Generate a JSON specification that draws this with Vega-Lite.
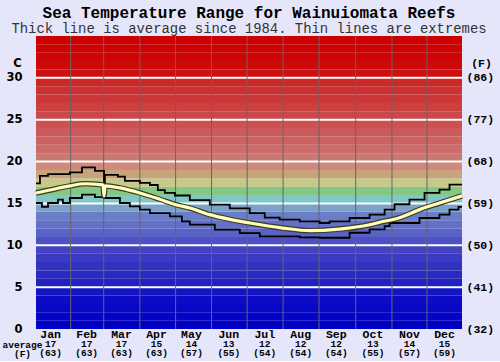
{
  "$schema": "https://vega.github.io/schema/vega-lite/v6.json",
  "background": "#e6e6fa",
  "padding": {"left": 2, "top": 4, "right": 6, "bottom": 3},
  "bounds": "flush",
  "spacing": 1,
  "title": {
    "text": "Sea Temperature Range for Wainuiomata Reefs",
    "subtitle": "Thick line is average since 1984. Thin lines are extremes",
    "font": "Liberation Mono", "fontSize": 16, "fontWeight": "bold", "color": "#000",
    "subtitleFont": "Liberation Mono", "subtitleFontSize": 13.9, "subtitleFontWeight": "normal", "subtitleColor": "#333",
    "anchor": "middle", "frame": "group", "offset": 0, "subtitlePadding": 1
  },
  "config": {"view": {"stroke": null}},
  "datasets": {
    "bands": [
      {"lo": 0, "hi": 1}, {"lo": 1, "hi": 2}, {"lo": 2, "hi": 3}, {"lo": 3, "hi": 4}, {"lo": 4, "hi": 5},
      {"lo": 5, "hi": 6}, {"lo": 6, "hi": 7}, {"lo": 7, "hi": 8}, {"lo": 8, "hi": 9}, {"lo": 9, "hi": 10},
      {"lo": 10, "hi": 11}, {"lo": 11, "hi": 12}, {"lo": 12, "hi": 13}, {"lo": 13, "hi": 14}, {"lo": 14, "hi": 15},
      {"lo": 15, "hi": 16}, {"lo": 16, "hi": 17}, {"lo": 17, "hi": 18}, {"lo": 18, "hi": 19}, {"lo": 19, "hi": 20},
      {"lo": 20, "hi": 21}, {"lo": 21, "hi": 22}, {"lo": 22, "hi": 23}, {"lo": 23, "hi": 24}, {"lo": 24, "hi": 25},
      {"lo": 25, "hi": 26}, {"lo": 26, "hi": 27}, {"lo": 27, "hi": 28}, {"lo": 28, "hi": 29}, {"lo": 29, "hi": 30},
      {"lo": 30, "hi": 31}, {"lo": 31, "hi": 32}, {"lo": 32, "hi": 33}, {"lo": 33, "hi": 34}, {"lo": 34, "hi": 35}
    ],
    "grid": [{"c": 5}, {"c": 10}, {"c": 15}, {"c": 20}, {"c": 25}, {"c": 30}],
    "bounds": [{"d": 29.7}, {"d": 58}, {"d": 89}, {"d": 119.6}, {"d": 150.4}, {"d": 180.9}, {"d": 211.7}, {"d": 242.5}, {"d": 273.9}, {"d": 305}, {"d": 335}],
    "maxT": [
      {"d": 0, "t": 17.4}, {"d": 3.4, "t": 18.3}, {"d": 10.3, "t": 18.5}, {"d": 29, "t": 18.7}, {"d": 39.4, "t": 19.3},
      {"d": 50.5, "t": 18.9}, {"d": 58.3, "t": 16.4}, {"d": 59, "t": 18.4}, {"d": 70.2, "t": 18.2}, {"d": 76.2, "t": 17.7},
      {"d": 89, "t": 17.45}, {"d": 97.6, "t": 17.2}, {"d": 104.4, "t": 16.6}, {"d": 110.4, "t": 16.25}, {"d": 119, "t": 15.95},
      {"d": 131.8, "t": 15.4}, {"d": 148.9, "t": 14.85}, {"d": 166, "t": 14.4}, {"d": 183.1, "t": 13.85}, {"d": 196, "t": 13.3},
      {"d": 208.8, "t": 13.06}, {"d": 226, "t": 12.86}, {"d": 243, "t": 12.66}, {"d": 251.6, "t": 12.86}, {"d": 268.7, "t": 13.26},
      {"d": 285.8, "t": 13.66}, {"d": 298.7, "t": 14.26}, {"d": 307.2, "t": 14.9}, {"d": 320, "t": 15.45}, {"d": 332.9, "t": 16.25},
      {"d": 345.7, "t": 16.65}, {"d": 354.3, "t": 17.25}, {"d": 365, "t": 17.25}
    ],
    "minT": [
      {"d": 0, "t": 15.05}, {"d": 5.1, "t": 14.6}, {"d": 10.3, "t": 15.05}, {"d": 18.8, "t": 15.45}, {"d": 23.1, "t": 15.05},
      {"d": 29, "t": 15.65}, {"d": 39.4, "t": 16.05}, {"d": 50.5, "t": 15.75}, {"d": 58.3, "t": 15.65}, {"d": 71.9, "t": 15.05},
      {"d": 80.4, "t": 14.65}, {"d": 89, "t": 14.26}, {"d": 97.6, "t": 13.85}, {"d": 114.7, "t": 13.46}, {"d": 125, "t": 12.86},
      {"d": 131.8, "t": 12.46}, {"d": 153.2, "t": 11.87}, {"d": 174.6, "t": 11.46}, {"d": 191.7, "t": 11.06}, {"d": 226, "t": 10.95},
      {"d": 243, "t": 10.9}, {"d": 268.7, "t": 11.5}, {"d": 285.8, "t": 11.9}, {"d": 298.7, "t": 12.3}, {"d": 303, "t": 12.66},
      {"d": 328.6, "t": 13.26}, {"d": 345.7, "t": 13.66}, {"d": 354.3, "t": 14.26}, {"d": 362, "t": 14.6}, {"d": 365, "t": 14.6}
    ],
    "avgT": [
      {"d": 0, "t": 16.25}, {"d": 12, "t": 16.6}, {"d": 29, "t": 17.1}, {"d": 42, "t": 17.35}, {"d": 54.8, "t": 17.25},
      {"d": 57.5, "t": 17.2}, {"d": 58.3, "t": 15.9}, {"d": 59.2, "t": 17.1}, {"d": 71.9, "t": 16.85}, {"d": 89, "t": 16.25},
      {"d": 106, "t": 15.5}, {"d": 119.8, "t": 14.85}, {"d": 131.8, "t": 14.45}, {"d": 148.9, "t": 13.66}, {"d": 166, "t": 13.1},
      {"d": 183.1, "t": 12.66}, {"d": 211.4, "t": 12.06}, {"d": 234.5, "t": 11.75}, {"d": 260, "t": 11.94}, {"d": 285.8, "t": 12.46},
      {"d": 294.4, "t": 12.75}, {"d": 311.5, "t": 13.3}, {"d": 328.6, "t": 14.26}, {"d": 345.7, "t": 15.05}, {"d": 365, "t": 15.9}
    ],
    "months": [
      {"m": "Jan", "mid": 12.5, "c": 17, "f": 63}, {"m": "Feb", "mid": 43.4, "c": 17, "f": 63},
      {"m": "Mar", "mid": 73.3, "c": 17, "f": 63}, {"m": "Apr", "mid": 103.3, "c": 15, "f": 63},
      {"m": "May", "mid": 133.2, "c": 14, "f": 57}, {"m": "Jun", "mid": 165.2, "c": 13, "f": 55},
      {"m": "Jul", "mid": 196, "c": 12, "f": 54}, {"m": "Aug", "mid": 226.8, "c": 12, "f": 54},
      {"m": "Sep", "mid": 257.3, "c": 12, "f": 54}, {"m": "Oct", "mid": 288.7, "c": 13, "f": 55},
      {"m": "Nov", "mid": 320, "c": 14, "f": 57}, {"m": "Dec", "mid": 350, "c": 15, "f": 59}
    ]
  },
  "vconcat": [
    {
      "width": 426,
      "height": 293,
      "resolve": {"axis": {"y": "independent"}},
      "layer": [
        {
          "data": {"name": "bands"},
          "mark": {"type": "rect"},
          "encoding": {
            "y": {"field": "lo", "type": "quantitative", "scale": {"domain": [0, 35], "nice": false, "zero": true},
              "axis": {"orient": "left", "values": [0, 5, 10, 15, 20, 25, 30], "domain": false, "ticks": false, "grid": false,
                "labelFont": "DejaVu Sans", "labelFontWeight": "bold", "labelFontSize": 11.5, "labelColor": "#000", "labelPadding": 14,
                "title": "C", "titleAngle": 0, "titleX": -19, "titleY": 27, "titleAlign": "center", "titleBaseline": "middle",
                "titleFont": "DejaVu Sans", "titleFontWeight": "bold", "titleFontSize": 11.5, "titleColor": "#000"}},
            "y2": {"field": "hi"},
            "color": {"field": "lo", "type": "ordinal", "legend": null,
              "scale": {"domain": [0,1,2,3,4,5,6,7,8,9,10,11,12,13,14,15,16,17,18,19,20,21,22,23,24,25,26,27,28,29,30,31,32,33,34],
                "range": ["#0000c4","#0404c6","#0808c6","#0c0cc6","#1414c6","#2222c0","#2a2ac0","#3232c0","#3a3ac2","#4242c2",
                          "#5050c6","#5a62c6","#6270c8","#6a7ec8","#7ca2c8","#80c8c8","#84c884","#c8c888","#c8a47c","#d08a7c",
                          "#c87a72","#cc6c6a","#cc6262","#cc5a5a","#cc5252","#cc4848","#cc4040","#cc3838","#cc3030","#cc2828",
                          "#cc1010","#cc0a0a","#cc0606","#cc0303","#cc0000"]}}
          }
        },
        {
          "data": {"name": "grid"},
          "mark": {"type": "rule", "color": "#ffffff", "strokeWidth": 2},
          "encoding": {
            "y": {"field": "c", "type": "quantitative",
              "axis": {"orient": "right", "values": [0, 5, 10, 15, 20, 25, 30], "domain": false, "ticks": false, "grid": false,
                "labelExpr": "'(' + format(datum.value * 9 / 5 + 32, 'd') + ')'",
                "labelFont": "Liberation Mono", "labelFontWeight": "bold", "labelFontSize": 11.5, "labelColor": "#000", "labelPadding": 4,
                "title": "(F)", "titleAngle": 0, "titleX": 19, "titleY": 27, "titleAlign": "center", "titleBaseline": "middle",
                "titleFont": "Liberation Mono", "titleFontWeight": "bold", "titleFontSize": 11.5, "titleColor": "#000"}}
          }
        },
        {
          "data": {"name": "bounds"},
          "mark": {"type": "rule", "color": "#666666", "strokeWidth": 1},
          "encoding": {
            "x": {"field": "d", "type": "quantitative", "scale": {"domain": [0, 365], "nice": false, "zero": false}, "axis": null}
          }
        },
        {
          "data": {"name": "maxT"},
          "mark": {"type": "line", "color": "#000000", "strokeWidth": 1.8, "interpolate": "step-after"},
          "encoding": {
            "x": {"field": "d", "type": "quantitative", "axis": null},
            "y": {"field": "t", "type": "quantitative", "axis": null}
          }
        },
        {
          "data": {"name": "minT"},
          "mark": {"type": "line", "color": "#000000", "strokeWidth": 1.8, "interpolate": "step-after"},
          "encoding": {
            "x": {"field": "d", "type": "quantitative", "axis": null},
            "y": {"field": "t", "type": "quantitative", "axis": null}
          }
        },
        {
          "data": {"name": "avgT"},
          "mark": {"type": "line", "color": "#3a3a2a", "strokeWidth": 5.5, "interpolate": "monotone"},
          "encoding": {
            "x": {"field": "d", "type": "quantitative", "axis": null},
            "y": {"field": "t", "type": "quantitative", "axis": null}
          }
        },
        {
          "data": {"name": "avgT"},
          "mark": {"type": "line", "color": "#ffffb8", "strokeWidth": 3.2, "interpolate": "monotone"},
          "encoding": {
            "x": {"field": "d", "type": "quantitative", "axis": null},
            "y": {"field": "t", "type": "quantitative", "axis": null}
          }
        }
      ]
    },
    {
      "width": 426,
      "height": 28,
      "data": {"name": "months"},
      "transform": [{"calculate": "'(' + datum.f + ')'", "as": "fl"}],
      "layer": [
        {
          "mark": {"type": "text", "font": "Liberation Mono", "fontWeight": "bold", "fontSize": 11.5, "color": "#000", "baseline": "middle"},
          "encoding": {
            "x": {"field": "mid", "type": "quantitative", "scale": {"domain": [0, 365], "nice": false, "zero": false}, "axis": null},
            "y": {"datum": "m", "type": "ordinal", "scale": {"type": "point", "domain": ["m", "c", "f"], "padding": 0.5},
              "axis": {"orient": "left", "domain": false, "ticks": false, "grid": false, "title": null,
                "labelExpr": "datum.value == 'c' ? 'average' : datum.value == 'f' ? '(F)' : ''",
                "labelFont": "Liberation Mono", "labelFontWeight": "bold", "labelFontSize": 9.5, "labelColor": "#000",
                "labelAlign": "center", "labelPadding": 14}},
            "text": {"field": "m"}
          }
        },
        {
          "mark": {"type": "text", "font": "Liberation Mono", "fontWeight": "bold", "fontSize": 9.5, "color": "#000", "baseline": "middle"},
          "encoding": {
            "x": {"field": "mid", "type": "quantitative"},
            "y": {"datum": "c", "type": "ordinal"},
            "text": {"field": "c"}
          }
        },
        {
          "mark": {"type": "text", "font": "Liberation Mono", "fontWeight": "bold", "fontSize": 9.5, "color": "#000", "baseline": "middle"},
          "encoding": {
            "x": {"field": "mid", "type": "quantitative"},
            "y": {"datum": "f", "type": "ordinal"},
            "text": {"field": "fl"}
          }
        }
      ]
    }
  ]
}
